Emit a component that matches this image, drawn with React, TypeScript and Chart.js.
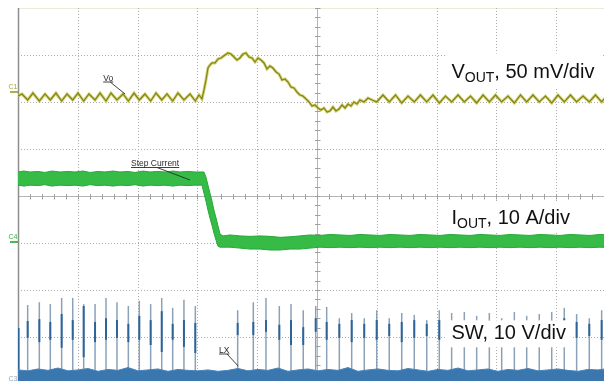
import React, { useEffect, useRef } from 'react';
import { Chart, registerables } from 'chart.js';

Chart.register(...registerables);

// ---- Axes (oscilloscope graticule): 6 µs/div, 10 x 8 divisions ----
const TIME_TICKS = [0, 6, 12, 18, 24, 30, 36, 42, 48, 54, 60];
const DIV_TICKS = [-4, -3, -2, -1, 0, 1, 2, 3, 4];
const TIME_CENTER = 30;

// ---- Channel 1: VOUT (mV, 50 mV/div) ----
const VO_TIME = [
  0, 0.40, 0.97, 1.50, 2.14, 2.71, 3.24, 3.81, 4.38, 4.92,
  5.49, 6.02, 6.59, 7.12, 7.73, 8.23, 8.83, 9.33, 9.93, 10.54,
  11.07, 11.64, 12.17, 12.74, 13.31, 13.85, 14.42, 14.95, 15.52, 16.05,
  16.65, 17.26, 17.79,
  18.16, 18.46, 18.66, 18.86, 19.06, 19.26, 19.46, 19.77, 20.07, 20.37,
  20.77, 21.07, 21.37, 21.67, 21.97, 22.27, 22.57, 22.88, 23.18, 23.48,
  23.78, 24.08, 24.38, 24.68, 24.98, 25.28, 25.58, 25.89, 26.19, 26.49,
  26.79, 27.09, 27.39, 27.69, 27.99, 28.29, 28.59, 28.90, 29.20, 29.50,
  29.80, 30.10, 30.40, 30.70, 31.00, 31.30, 31.60, 31.90, 32.21, 32.51,
  32.81, 33.11, 33.41, 33.71, 34.01, 34.31, 34.71, 35.12, 35.52,
  35.99, 36.62, 37.25, 37.88, 38.50, 39.13, 39.76, 40.38, 41.01, 41.64,
  42.27, 42.89, 43.51, 44.15, 44.78, 45.40, 46.02, 46.66, 47.29, 47.91,
  48.53, 49.16, 49.80, 50.42, 51.04, 51.67, 52.30, 52.92, 53.55, 54.18,
  54.81, 55.43, 56.05, 56.69, 57.32, 57.94, 58.56, 58.99,
];
const VO_MV = [
  -4.3, -2.1, -8.5, -1.1, -9.6, -2.1, -8.5, -1.1, -9.6, -2.1,
  -8.5, -1.1, -9.6, -2.1, -8.5, -1.1, -9.6, -1.1, -8.5, -2.1,
  -9.6, -1.1, -8.5, -2.1, -9.6, -1.1, -8.5, -2.1, -9.6, -1.1,
  -8.5, -2.1, -9.6,
  -3.2, -7.4, 2.1, 12.8, 25.5, 28.7, 30.9, 30.9, 35.1, 36.2,
  39.4, 41.5, 40.4, 37.2, 34.0, 36.2, 40.4, 41.5, 37.2, 36.2,
  31.9, 36.2, 34.0, 30.9, 24.5, 27.7, 25.5, 21.3, 19.1, 12.8,
  13.8, 10.6, 5.3, 4.3, 0, -3.2, -4.3, -7.4, -10.6, -14.9,
  -13.8, -17.0, -19.1, -17.0, -21.3, -20.2, -16.0, -20.2, -18.1, -13.8,
  -17.0, -12.8, -14.9, -10.6, -12.8, -8.5, -10.6, -6.4, -8.5,
  -10.6, -3.2, -10.6, -3.2, -11.7, -4.3, -10.6, -3.2, -10.6, -3.2,
  -11.7, -4.3, -10.6, -3.2, -10.6, -4.3, -11.7, -3.2, -10.6, -3.2,
  -10.6, -4.3, -11.7, -3.2, -10.6, -3.2, -10.6, -4.3, -11.7, -3.2,
  -10.6, -3.2, -10.6, -4.3, -10.6, -3.2, -10.6, -5.3,
];

// ---- Channel 4: IOUT (A, 10 A/div), upper / lower envelope of the trace ----
const IOUT_TIME = [
  0, 0.60, 1.20, 2.01, 2.71, 3.41, 4.21, 5.02, 5.72, 6.52,
  7.22, 8.03, 8.73, 9.53, 10.23, 11.04, 11.74, 12.54, 13.24, 14.05,
  14.75, 15.55, 16.25, 17.06, 17.76,
  18.46, 18.66, 18.86, 19.06, 19.26, 19.46, 19.66, 19.87, 20.07, 20.27, 20.57,
  21.27, 22.27, 23.28, 24.28, 25.28, 26.29, 27.29, 28.29, 29.30, 30.30,
  31.30, 32.31, 33.31, 34.31, 35.32, 36.32, 37.32, 38.33, 39.33, 40.33,
  41.34, 42.34, 43.34, 44.35, 45.35, 46.35, 47.36, 48.36, 49.36, 50.37,
  51.37, 52.37, 53.38, 54.38, 55.38, 56.39, 57.39, 58.39, 59.40,
];
const IOUT_HIGH = [
  14.9, 15.1, 14.9, 15.0, 14.8, 15.1, 14.9, 15.0, 14.9, 15.1,
  14.8, 15.0, 14.9, 15.1, 14.9, 15.0, 14.8, 15.1, 14.9, 15.0,
  14.9, 15.1, 14.9, 15.0, 14.9,
  14.9, 14.9, 13.8, 12.1, 10.4, 8.7, 6.8, 5.1, 3.4, 1.7, 1.3,
  1.5, 1.3, 1.2, 1.3, 1.2, 1.0, 1.1, 1.3, 1.5, 1.4,
  1.6, 1.5, 1.4, 1.6, 1.5, 1.4, 1.6, 1.5, 1.4, 1.6,
  1.5, 1.4, 1.6, 1.5, 1.4, 1.6, 1.5, 1.4, 1.6, 1.5,
  1.4, 1.6, 1.5, 1.4, 1.6, 1.5, 1.4, 1.6, 1.5,
];
const IOUT_LOW = [
  12.1, 11.9, 12.1, 12.0, 12.2, 11.9, 12.1, 12.0, 12.1, 11.9,
  12.2, 12.0, 12.1, 11.9, 12.1, 12.0, 12.2, 11.9, 12.1, 12.0,
  12.1, 11.9, 12.1, 12.0, 12.1,
  12.1, 10.4, 8.7, 6.8, 5.1, 3.6, 1.9, 0.4, -0.9, -1.1, -1.1,
  -1.1, -1.3, -1.5, -1.5, -1.7, -1.7, -1.5, -1.5, -1.3, -1.1,
  -1.2, -1.1, -1.2, -1.1, -1.2, -1.1, -1.2, -1.1, -1.2, -1.1,
  -1.2, -1.1, -1.2, -1.1, -1.2, -1.1, -1.2, -1.1, -1.2, -1.1,
  -1.2, -1.1, -1.2, -1.1, -1.2, -1.1, -1.2, -1.1, -1.2,
];

// ---- Channel 3: SW node (V, 10 V/div) ----
const SW_TIME = [
  0.05,
  0.97, 2.14, 3.24, 4.38, 5.49, 6.59, 7.73, 8.83, 9.93, 11.07, 12.17, 13.31, 14.42, 15.52, 16.65, 17.79,
  22.04, 23.61, 24.88, 26.22, 27.39, 28.62, 29.87, 30.97, 32.24, 33.48,
  34.74, 35.99, 37.25, 38.50, 39.76, 41.01, 42.27, 43.51, 44.78, 46.02,
  47.29, 48.53, 49.80, 51.04, 52.30, 53.55, 54.81, 56.05, 57.32, 58.56,
];
const SW_PEAK = [
  10.2,
  15.1, 15.7, 15.3, 16.6, 16.6, 15.3, 15.3, 16.6, 15.7, 14.9, 16.0, 15.3, 16.6, 14.5, 16.2, 14.9,
  14.0, 15.7, 16.6, 14.9, 15.3, 14.0, 14.9, 14.7, 12.3, 13.4,
  12.3, 14.0, 12.3, 13.4, 13.0, 11.9, 14.0, 13.4, 13.6, 12.8,
  13.4, 12.3, 13.6, 12.8, 13.2, 13.6, 14.5, 13.2, 12.3, 14.0,
];
const SW_CORE_LOW = [
  1.3,
  8.1, 7.2, 7.7, 6.0, 7.7, 4.0, 7.2, 7.7, 8.1, 7.2, 7.7, 6.6, 5.1, 7.7, 6.2, 4.9,
  8.7, 8.7, 9.4, 7.7, 6.6, 6.6, 9.4, 7.7, 8.1, 7.2,
  8.1, 7.7, 8.5, 7.2, 8.1, 8.5, 7.7, 8.1, 7.7, 8.1,
  7.7, 8.5, 7.7, 8.1, 7.7, 8.1, 7.2, 8.1, 8.5, 7.7,
];
const SW_CORE_HIGH = [
  10.2,
  11.7, 12.1, 11.5, 13.2, 11.9, 14.9, 11.5, 12.3, 11.9, 11.1, 12.8, 11.9, 13.8, 11.1, 11.9, 11.3,
  11.3, 11.5, 11.9, 10.9, 11.9, 10.4, 12.3, 11.5, 11.1, 11.9,
  11.1, 11.9, 11.1, 11.5, 11.9, 11.1, 11.9, 11.5, 11.5, 11.1,
  11.9, 11.1, 11.5, 11.3, 11.5, 11.9, 12.3, 11.5, 11.1, 11.9,
];
const SW_FLOOR_TIME = [
  0, 1.00, 2.01, 3.01, 4.01, 5.02, 6.02, 7.02, 8.03, 9.03,
  10.03, 11.04, 12.04, 13.04, 14.05, 15.05, 16.05, 17.06, 18.06, 19.06,
  20.07, 21.07, 22.07, 23.08, 24.08, 25.08, 26.09, 27.09, 28.09, 29.10,
  30.10, 31.10, 32.11, 33.11, 34.11, 35.12, 36.12, 37.12, 38.13, 39.13,
  40.13, 41.14, 42.14, 43.14, 44.15, 45.15, 46.15, 47.16, 48.16, 49.16,
  50.17, 51.17, 52.17, 53.18, 54.18, 55.18, 56.19, 57.19, 58.19, 59.20,
];
const SW_FLOOR = [
  1.3, 1.1, 1.5, 1.2, 1.7, 1.1, 1.3, 1.6, 1.0, 1.4,
  1.2, 1.8, 1.1, 1.3, 1.5, 1.0, 1.4, 1.2, 1.1, 1.3,
  1.0, 1.2, 1.6, 1.1, 1.4, 1.2, 1.7, 1.0, 1.3, 1.5,
  1.1, 1.4, 1.2, 1.8, 1.0, 1.3, 1.5, 1.2, 1.1, 1.6,
  1.3, 1.0, 1.4, 1.2, 1.7, 1.1, 1.3, 1.5, 1.0, 1.4,
  1.2, 1.6, 1.1, 1.3, 1.5, 1.2, 1.0, 1.4, 1.3, 1.6,
];

const FONT = '"Liberation Sans", Arial, Helvetica, sans-serif';

const CHANNEL_LABELS = [
  { main: 'V', sub: 'OUT', rest: ', 50 mV/div', t: 43.49, div: 2.502, padTop: 25, padBottom: 9 },
  { main: 'I', sub: 'OUT', rest: ', 10 A/div', t: 43.49, div: -0.596, padTop: 21, padBottom: 8 },
  { main: 'SW, 10 V/div', sub: '', rest: '', t: 43.49, div: -3.049, padTop: 19, padBottom: 8 },
];

const TRACE_NOTES = [
  { text: 'Vo', t: 8.55, div: 2.457, leadFrom: 7, toT: 10.74, toV: -2.1, axis: 'yVo' },
  { text: 'Step Current', t: 11.34, div: 0.638, leadFrom: 26, toT: 17.26, toV: 13.2, axis: 'yI' },
  { text: 'LX', t: 20.17, div: -3.33, leadFrom: 8, toT: 22.1, toV: 2.1, axis: 'ySW' },
];

const CHANNEL_MARKERS = [
  { name: 'C1', axis: 'yVo', color: '#a5a53c', textDy: -2.5, bar: true },
  { name: 'C4', axis: 'yI', color: '#3aae46', textDy: -3, bar: true },
  { name: 'C3', axis: 'ySW', color: '#93a6b9', textDy: 4.5, bar: false },
];

const scopePlugin = {
  id: 'scopeGraticule',
  beforeDatasetsDraw(chart: any) {
    const { ctx, chartArea: a, scales } = chart;
    const xs = scales.x;
    const ys = scales.yGrid;
    ctx.save();
    ctx.strokeStyle = '#ecebd6';
    ctx.lineWidth = 1;
    ctx.beginPath();
    ctx.moveTo(a.left, a.top + 0.5);
    ctx.lineTo(a.right, a.top + 0.5);
    ctx.stroke();
    ctx.strokeStyle = '#ababab';
    ctx.setLineDash([1, 2]);
    ctx.beginPath();
    TIME_TICKS.forEach((t, i) => {
      if (i === 0 || t === TIME_CENTER) return;
      const px = Math.round(xs.getPixelForValue(t)) + 0.5;
      ctx.moveTo(px, a.top);
      ctx.lineTo(px, a.bottom);
    });
    DIV_TICKS.forEach((d) => {
      if (d === 0 || d === 4 || d === -4) return;
      const py = Math.round(ys.getPixelForValue(d)) + 0.5;
      ctx.moveTo(a.left, py);
      ctx.lineTo(a.right, py);
    });
    ctx.stroke();
    ctx.setLineDash([]);
    const cx = Math.round(xs.getPixelForValue(TIME_CENTER)) + 0.5;
    const cy = Math.round(ys.getPixelForValue(0)) + 0.5;
    ctx.strokeStyle = '#b4b4b4';
    ctx.beginPath();
    ctx.moveTo(cx, a.top);
    ctx.lineTo(cx, a.bottom);
    ctx.moveTo(a.left, cy);
    ctx.lineTo(a.right, cy);
    ctx.stroke();
    ctx.strokeStyle = '#a0a0a0';
    ctx.beginPath();
    for (let k = -20; k <= 20; k++) {
      const py = Math.round(ys.getPixelForValue(k * 0.2)) + 0.5;
      ctx.moveTo(cx - 2.5, py);
      ctx.lineTo(cx + 3, py);
    }
    const step = (TIME_TICKS[1] - TIME_TICKS[0]) / 5;
    for (let k = -25; k <= 25; k++) {
      const px = Math.round(xs.getPixelForValue(TIME_CENTER + k * step)) + 0.5;
      ctx.moveTo(px, cy - 2.5);
      ctx.lineTo(px, cy + 3);
    }
    ctx.stroke();
    ctx.strokeStyle = '#8e8e8e';
    ctx.lineWidth = 1.5;
    ctx.beginPath();
    ctx.moveTo(a.left + 0.5, a.top);
    ctx.lineTo(a.left + 0.5, a.bottom);
    ctx.stroke();
    ctx.restore();
  },
  afterDatasetsDraw(chart: any) {
    const { ctx, chartArea: a, scales } = chart;
    const xs = scales.x;
    const ys = scales.yGrid;
    ctx.save();
    CHANNEL_LABELS.forEach((l) => {
      const x = xs.getPixelForValue(l.t);
      const y = ys.getPixelForValue(l.div);
      const mainFont = `20px ${FONT}`;
      const subFont = `14px ${FONT}`;
      ctx.font = mainFont;
      const wMain = ctx.measureText(l.main).width;
      const wRest = ctx.measureText(l.rest).width;
      ctx.font = subFont;
      const wSub = l.sub ? ctx.measureText(l.sub).width : 0;
      const total = wMain + wSub + wRest;
      ctx.fillStyle = '#ffffff';
      ctx.fillRect(x - 6.5, y - l.padTop, total + 13, l.padTop + l.padBottom);
      ctx.fillStyle = '#111111';
      ctx.textBaseline = 'alphabetic';
      ctx.textAlign = 'left';
      ctx.font = mainFont;
      ctx.fillText(l.main, x, y);
      if (l.sub) {
        ctx.font = subFont;
        ctx.fillText(l.sub, x + wMain, y + 3.5);
      }
      ctx.font = mainFont;
      ctx.fillText(l.rest, x + wMain + wSub, y);
    });
    TRACE_NOTES.forEach((n) => {
      const x = xs.getPixelForValue(n.t);
      const y = ys.getPixelForValue(n.div);
      ctx.font = `8.5px ${FONT}`;
      const w = ctx.measureText(n.text).width;
      ctx.fillStyle = '#2a2a2a';
      ctx.fillText(n.text, x, y);
      ctx.strokeStyle = '#2a2a2a';
      ctx.lineWidth = 0.9;
      ctx.beginPath();
      ctx.moveTo(x, y + 1.5);
      ctx.lineTo(x + w, y + 1.5);
      const ex = xs.getPixelForValue(n.toT);
      const ey = scales[n.axis].getPixelForValue(n.toV);
      ctx.moveTo(x + n.leadFrom, y + 1.5);
      ctx.lineTo(ex, ey);
      ctx.stroke();
    });
    CHANNEL_MARKERS.forEach((m) => {
      const y0 = scales[m.axis].getPixelForValue(0);
      ctx.fillStyle = m.color;
      ctx.font = `7px ${FONT}`;
      ctx.fillText(m.name, a.left - 9.5, y0 + m.textDy);
      if (m.bar) {
        ctx.strokeStyle = m.color;
        ctx.lineWidth = 1.8;
        ctx.beginPath();
        ctx.moveTo(a.left - 8, y0);
        ctx.lineTo(a.left, y0);
        ctx.stroke();
      }
    });
    ctx.restore();
  },
};

export default function App() {
  const ref = useRef<HTMLCanvasElement>(null);
  useEffect(() => {
    const canvas = ref.current;
    if (!canvas) return;
    const vo = VO_TIME.map((t, i) => ({ x: t, y: VO_MV[i] }));
    const iHigh = IOUT_TIME.map((t, i) => ({ x: t, y: IOUT_HIGH[i] }));
    const iLow = IOUT_TIME.map((t, i) => ({ x: t, y: IOUT_LOW[i] }));
    const swFloor = SW_FLOOR_TIME.map((t, i) => ({ x: t, y: SW_FLOOR[i] }));
    const swCore = SW_TIME.map((t, i) => ({ x: t, y: [SW_CORE_LOW[i], SW_CORE_HIGH[i]] }));
    const swSpike = SW_TIME.map((t, i) => ({ x: t, y: [0, SW_PEAK[i]] }));

    const chart = new Chart(canvas, {
      type: 'line',
      data: {
        datasets: [
          { type: 'line', label: 'Vo', data: vo, yAxisID: 'yVo', borderColor: '#838318', borderWidth: 1.2, pointRadius: 0, fill: false, order: 0 },
          { type: 'line', label: 'Vo halo', data: vo, yAxisID: 'yVo', borderColor: 'rgba(200,200,80,0.8)', borderWidth: 3, pointRadius: 0, fill: false, order: 1 },
          { type: 'line', label: 'Iout high', data: iHigh, yAxisID: 'yI', borderColor: '#27a838', borderWidth: 1, pointRadius: 0, fill: false, order: 2 },
          { type: 'line', label: 'Iout low', data: iLow, yAxisID: 'yI', borderColor: '#27a838', borderWidth: 1, pointRadius: 0, fill: '-1', backgroundColor: '#36bb47', order: 3 },
          { type: 'line', label: 'SW floor', data: swFloor, yAxisID: 'ySW', borderColor: '#4a84b8', borderWidth: 1, pointRadius: 0, fill: 'start', backgroundColor: '#3a77ae', order: 4 },
          { type: 'bar', label: 'SW core', data: swCore as any, yAxisID: 'ySW', backgroundColor: '#2d6498', barThickness: 2, inflateAmount: 0, grouped: false, order: 5 } as any,
          { type: 'bar', label: 'SW', data: swSpike as any, yAxisID: 'ySW', backgroundColor: '#8aa1b7', barThickness: 1.5, inflateAmount: 0, grouped: false, order: 6 } as any,
        ],
      },
      options: {
        responsive: false,
        animation: false,
        devicePixelRatio: 1,
        events: [],
        layout: { padding: { left: 18, top: 8, right: 0, bottom: 0 } },
        plugins: { legend: { display: false }, tooltip: { enabled: false } },
        scales: {
          x: { type: 'linear', min: TIME_TICKS[0], max: TIME_TICKS[TIME_TICKS.length - 1], offset: false, display: false },
          yGrid: { type: 'linear', axis: 'y', min: DIV_TICKS[0], max: DIV_TICKS[DIV_TICKS.length - 1], display: false },
          yVo: { type: 'linear', axis: 'y', min: -310.64, max: 89.36, display: false },
          yI: { type: 'linear', axis: 'y', min: -30.21, max: 49.79, display: false },
          ySW: { type: 'linear', axis: 'y', min: -1.7, max: 78.3, display: false },
        },
      } as any,
      plugins: [scopePlugin],
    });
    return () => chart.destroy();
  }, []);

  return (
    <div style={{ position: 'fixed', left: 0, top: 0, width: 604, height: 381, overflow: 'hidden', background: '#ffffff' }}>
      <canvas ref={ref} width={616} height={384} style={{ display: 'block', width: 616, height: 384 }} />
    </div>
  );
}
